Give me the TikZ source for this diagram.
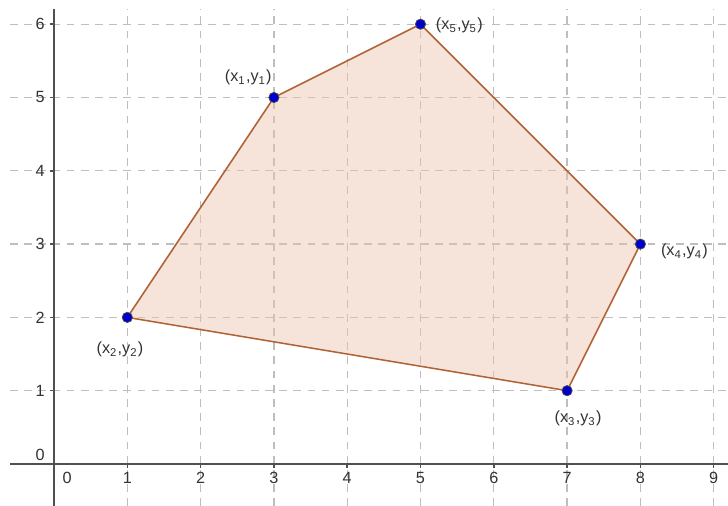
\documentclass[tikz,border=0pt]{standalone}
\usepackage{fontspec}
\setmainfont{Liberation Sans}
\definecolor{gridgray}{RGB}{190,190,190}
\definecolor{axisgray}{RGB}{80,80,80}
\definecolor{polyfill}{RGB}{235,195,175}
\definecolor{polyedge}{RGB}{176,98,52}
\definecolor{dotblue}{RGB}{0,0,205}
\tikzset{
  lbl/.style={font=\fontsize{6.3}{7}\selectfont, text=black!80, inner sep=1pt},
  vertex/.style={circle, fill=dotblue, draw=black!70, line width=0.3pt, inner sep=0pt, minimum size=0.14cm}
}
\newcommand{\pt}[1]{(x\textsubscript{#1},y\textsubscript{#1})}
\begin{document}
\begin{tikzpicture}[x=1cm,y=1cm]
\useasboundingbox (-0.737,-0.572) rectangle (9.195,6.33);

% -----------------------------
% Grid
% -----------------------------
\foreach \y in {1,...,6} {
    \draw[gridgray, dashed, line width=0.5pt, dash pattern=on 3pt off 2.5pt] (-0.6,\y) -- (9.2,\y);
}
\foreach \x in {1,...,9} {
    \draw[gridgray, dashed, line width=0.5pt, dash pattern=on 3pt off 2.5pt] (\x,-0.572) -- (\x,6.21);
}

% -----------------------------
% Axes
% -----------------------------
\draw[axisgray, line width=0.8pt] (-0.6,0) -- (9.2,0);   % x axis
\draw[axisgray, line width=0.8pt] (0,-0.572) -- (0,6.21);  % y axis

% ticks and numbers
\foreach \x in {1,...,9} {
    \draw[axisgray, line width=0.6pt] (\x,0) -- ++(0,-0.06);
    \node[lbl] at (\x,-0.19) {\x};
}
\foreach \y in {1,...,6} {
    \draw[axisgray, line width=0.6pt] (0,\y) -- ++(-0.06,0);
    \node[lbl] at (-0.19,\y) {\y};
}
\node[lbl] at (0.18,-0.19) {0};
\node[lbl] at (-0.19,0.12) {0};

% -----------------------------
% Polygon
% -----------------------------
\fill[polyfill, fill opacity=0.45] (3,5) -- (1,2) -- (7,1) -- (8,3) -- (5,6) -- cycle;
\draw[polyedge, line width=0.6pt] (3,5) -- (1,2) -- (7,1) -- (8,3) -- (5,6) -- cycle;

% vertices
\node[vertex] (p1) at (3,5) {};
\node[vertex] (p2) at (1,2) {};
\node[vertex] (p3) at (7,1) {};
\node[vertex] (p4) at (8,3) {};
\node[vertex] (p5) at (5,6) {};

\node[lbl] (l1) at (2.65,5.27) {\pt{1}};
\node[lbl] (l2) at (0.9,1.56) {\pt{2}};
\node[lbl] (l3) at (7.15,0.62) {\pt{3}};
\node[lbl] (l4) at (8.6,2.9) {\pt{4}};
\node[lbl] (l5) at (5.53,5.98) {\pt{5}};

\end{tikzpicture}
\end{document}
